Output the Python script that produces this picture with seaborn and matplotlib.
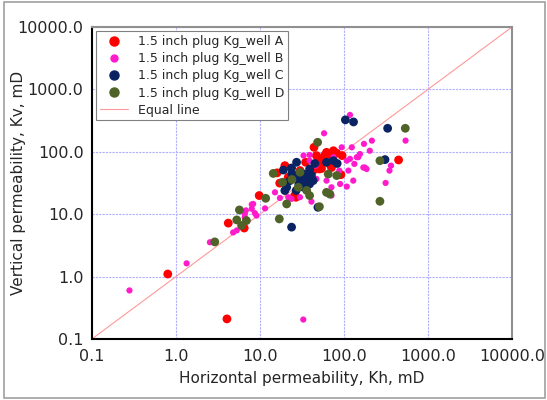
import pandas as pd
import matplotlib.pyplot as plt
import seaborn as sns
from matplotlib.lines import Line2D
from matplotlib.patches import Rectangle

# Dados (Kh, Kv em mD)
kh_a = [0.8, 4.05, 4.2, 6.5, 9.8, 16, 17.2, 44, 62, 75, 82, 447, 95, 54, 92, 71, 26.8,
        20, 35, 43, 51, 30, 21.7, 65, 47, 57, 59, 75, 67, 54, 19.8, 51, 25.9]
kv_a = [1.1, 0.21, 7.2, 6.0, 19.9, 46, 31.5, 118, 98, 104, 95, 74, 87, 54, 43, 56, 18.7,
        58, 68, 50, 72, 50, 39, 80, 87, 80, 88, 96, 64, 68, 60, 53, 19.9]

kh_b = [0.28, 1.34, 2.54, 32.8, 4.8, 5.3, 6.6, 6.6, 8.0, 8.3, 8.7, 9.1, 11.5, 15.1, 17.3,
        21.7, 23.8, 30, 41, 71, 118, 58, 173, 215, 33, 39, 46, 94, 124, 108, 142, 170,
        186, 113, 133, 90, 108, 129, 71, 62, 47, 39, 203, 155, 75, 88, 541, 363, 348,
        313, 6.8, 8.0, 148, 118, 177, 39]
kv_b = [0.6, 1.63, 3.55, 0.205, 5.1, 5.5, 10.1, 8.9, 14.3, 14.6, 10.4, 9.5, 12.4, 22.4, 18.2,
        18.7, 17.6, 18.7, 15.9, 19.9, 390, 198, 134, 151, 87, 72, 60, 118, 118, 72, 82, 56,
        53, 50, 64, 30.5, 27.7, 34.5, 27, 34.5, 36.8, 44, 104, 92, 82, 50, 151, 60, 50,
        31.7, 11.5, 12.2, 82, 77, 56, 89]

kh_c = [104, 130, 331, 308, 27.3, 19, 23.8, 62, 75, 83, 45, 39, 36, 30, 26, 22.8, 20.8,
        19.8, 43, 39, 33, 23.8, 49, 27, 33, 36, 29, 24, 31, 41]
kv_c = [325, 301, 238, 75, 68, 51, 55, 68, 72, 65, 65, 53, 39, 34.5, 41.6, 34.5, 27,
        23.9, 34.5, 30.5, 27, 6.2, 12.9, 24, 44, 34.5, 30, 45, 38, 42]

kh_d = [48.6, 14.4, 30, 18.6, 28.6, 39, 62, 68, 82, 65, 51, 20.8, 268, 268, 11.7, 5.7,
        5.3, 6.05, 6.9, 17, 36, 2.9, 537, 24]
kv_d = [142, 45, 47, 32.5, 27, 19.9, 22.4, 21, 41.6, 44, 13.2, 14.6, 72, 16.1, 18, 11.7,
        8.1, 6.6, 7.9, 8.4, 24, 3.6, 238, 36]

poco = ["1.5 inch plug Kg_well A", "1.5 inch plug Kg_well B",
        "1.5 inch plug Kg_well C", "1.5 inch plug Kg_well D"]
cores = ["#ff0000", "#ff1acc", "#0a2463", "#4f6228"]
tamanhos = [40, 20, 40, 40]

grupos = [(kh_a, kv_a), (kh_b, kv_b), (kh_c, kv_c), (kh_d, kv_d)]
df = pd.concat(
    [pd.DataFrame({"kh": x, "kv": y, "poco": nome}) for (x, y), nome in zip(grupos, poco)],
    ignore_index=True,
)

limites = [0.1, 10000]
ticks = [0.1, 1, 10, 100, 1000, 10000]
tick_labels = ["0.1", "1.0", "10.0", "100.0", "1000.0", "10000.0"]

sns.set_style("white")
plt.rcParams["font.family"] = ["DejaVu Sans"]

fig = plt.figure(figsize=(5.47, 4.0), dpi=100)
ax = fig.add_axes([0.168, 0.1525, 0.768, 0.78])

# Grade azul
ax.set_xscale("log")
ax.set_yscale("log")
ax.grid(True, which="major", color="#b0b0ff", linestyle=(0, (2, 1)), linewidth=0.8)
ax.set_axisbelow(True)

# Linha de igualdade
ax.plot(limites, limites, color="#ff9999", linewidth=0.8, zorder=1)

# Pontos de cada poço
for nome, cor, s in zip(poco, cores, tamanhos):
    sns.scatterplot(
        x="kh", y="kv", data=df[df["poco"] == nome], ax=ax,
        color=cor, s=s, edgecolor="none", linewidth=0, zorder=3, legend=False,
    )

ax.set_xlim(limites)
ax.set_ylim(limites)
ax.set_xticks(ticks)
ax.set_xticklabels(tick_labels)
ax.set_yticks(ticks)
ax.set_yticklabels(tick_labels)
ax.minorticks_off()
ax.tick_params(axis="both", labelsize=11.5, length=4, width=1, direction="out", color="black")
ax.tick_params(axis="y", pad=2)
ax.tick_params(axis="x", pad=3)

for lado in ["left", "bottom"]:
    ax.spines[lado].set_color("black")
    ax.spines[lado].set_linewidth(1.5)
for lado in ["top", "right"]:
    ax.spines[lado].set_color("#909090")
    ax.spines[lado].set_linewidth(1.5)

ax.set_xlabel("Horizontal permeability, Kh, mD", fontsize=11, labelpad=5)
ax.set_ylabel("Vertical permeability, Kv, mD", fontsize=11)
ax.yaxis.set_label_coords(-0.157, 0.5)

# Legenda
handles = [
    Line2D([], [], marker="o", linestyle="none", color=c, markersize=(6.5 if s > 30 else 5))
    for c, s in zip(cores, tamanhos)
]
handles.append(Line2D([], [], color="#ff9999", linewidth=0.8))
leg = ax.legend(
    handles, poco + ["Equal line"], loc="upper left", bbox_to_anchor=(0.0, 1.0),
    fontsize=9, frameon=True, fancybox=False, edgecolor="#808080", framealpha=1,
    borderpad=0.3, labelspacing=0.33, handlelength=2.2, borderaxespad=0.35,
)
leg.get_frame().set_linewidth(0.8)

# Moldura externa
fig.patches.append(Rectangle((0.007, 0.004), 0.99, 0.99, transform=fig.transFigure,
                             fill=False, edgecolor="#a0a0a0", linewidth=1.2))

plt.savefig("out.png", dpi=100)
